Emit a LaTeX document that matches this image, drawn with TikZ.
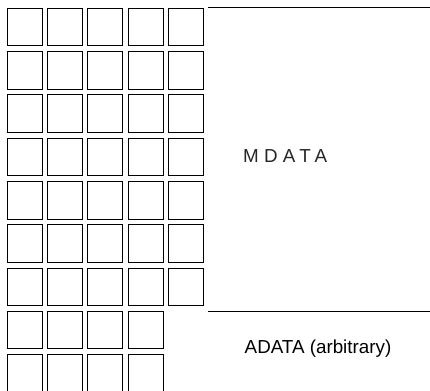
\documentclass[tikz,border=0pt]{standalone}
\usepackage{fontspec}
\setmainfont{Liberation Sans}
\usetikzlibrary{positioning}

\begin{document}
\begin{tikzpicture}[x=1pt,y=-1pt]
\useasboundingbox (0,0) rectangle (430,390);
\tikzset{
  cell/.style={draw, line width=0.9pt, minimum width=35pt, minimum height=37.5pt, inner sep=0pt, anchor=north west},
  label/.style={font=\fontsize{18.8}{22}\selectfont, inner sep=0pt}
}
% MDATA blocks (five per row)
\foreach \r in {0,...,6} {
  \foreach \c in {0,...,4} {
    \node[cell] (m-\r-\c) at (7+40.2*\c, 8+43.25*\r) {};
  }
}
% ADATA blocks (four per row)
\foreach \r in {7,8} {
  \foreach \c in {0,...,3} {
    \node[cell] (a-\r-\c) at (7+40.2*\c, 8+43.25*\r) {};
  }
}

% Separating rules
\coordinate (topl) at (208,7.5);
\coordinate (topr) at (430,7.5);
\coordinate (midl) at (208,311);
\coordinate (midr) at (430,311);
\draw[line width=0.9pt] (topl) -- (topr);
\draw[line width=0.9pt] (midl) -- (midr);

% Labels
\node[label, anchor=west, text=black!85] (mdata) at (243,156) {\addfontfeature{LetterSpace=28}MDATA};
\node[label] (adata) at (318,349) {ADATA (arbitrary)};
\end{tikzpicture}
\end{document}
